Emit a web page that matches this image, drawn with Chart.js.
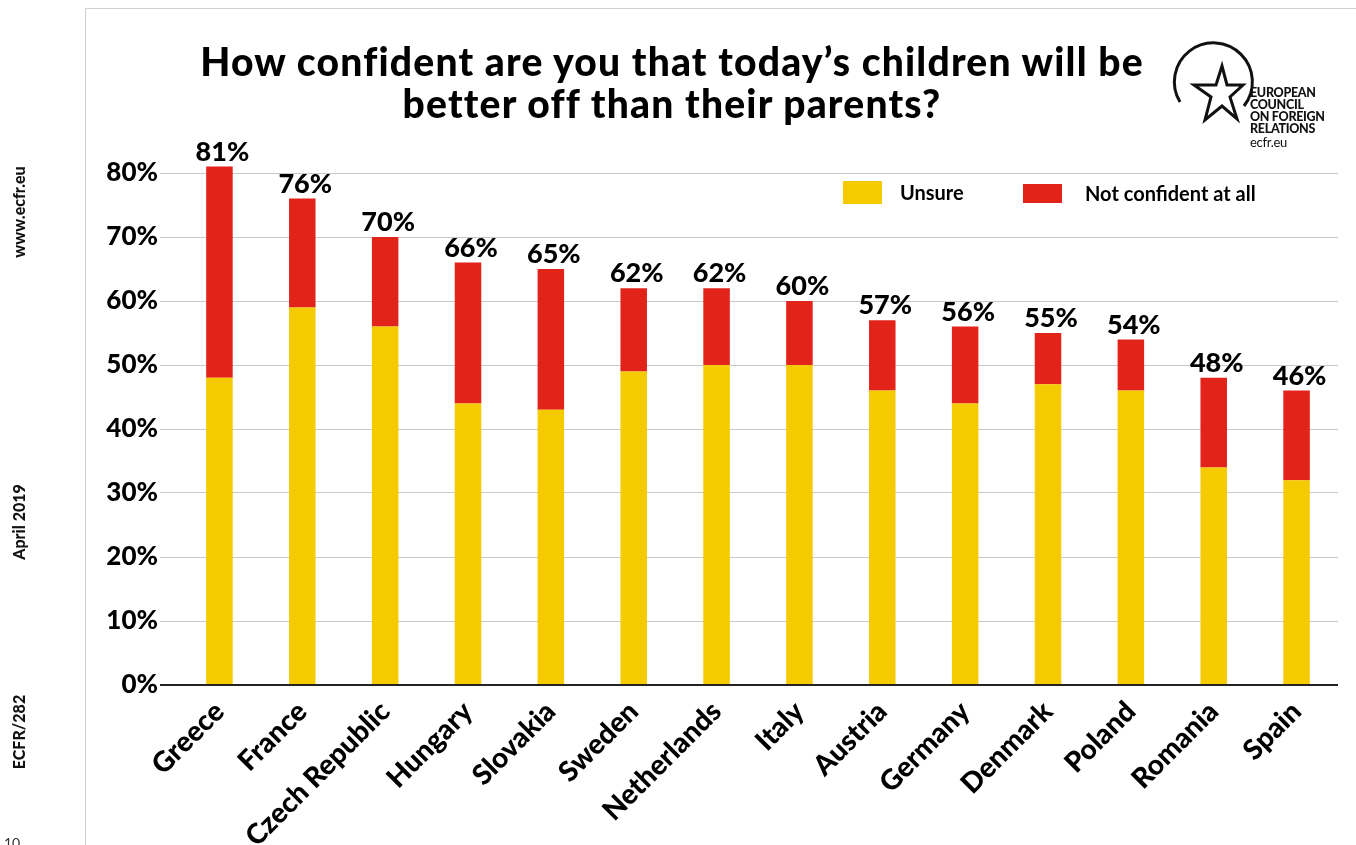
<!DOCTYPE html>
<html>
<head>
<meta charset="utf-8">
<script src="https://cdn.jsdelivr.net/npm/chart.js@4.4.1/dist/chart.umd.min.js"></script>
<style>
  html, body { margin:0; padding:0; background:#fff; }
  body { width:1356px; height:845px; position:relative; overflow:hidden; font-family:"Lato", "DejaVu Sans", sans-serif; }
  #wrap { position:absolute; left:0; top:0; width:1356px; height:845px; }
  .frameV { position:absolute; left:85px; top:8px; width:1px; height:837px; background:#cfcfcf; }
  .frameH { position:absolute; left:85px; top:8px; width:1271px; height:1px; background:#cfcfcf; }
  .side { position:absolute; font-weight:900; font-size:16px; color:#111; transform:translate(-50%,-50%) rotate(-90deg); white-space:nowrap; }
  #title { position:absolute; left:122px; width:1100px; top:40px; text-align:center; font-weight:900; font-size:39px; line-height:42px; letter-spacing:1.2px; color:#000; }
  #logo { position:absolute; left:1160px; top:30px; width:196px; height:130px; }
  .logoTxt { position:absolute; left:1250px; font-weight:900; font-size:12.5px; line-height:12px; color:#111; letter-spacing:-0.3px; }
</style>
</head>
<body>
<div id="wrap"><canvas id="c" width="1356" height="845"></canvas></div>
<div class="frameV"></div>
<div class="frameH"></div>
<div class="side" style="left:18px; top:212px;">www.ecfr.eu</div>
<div class="side" style="left:18px; top:522px;">April 2019</div>
<div class="side" style="left:18px; top:732px;">ECFR/282</div>
<div style="position:absolute; left:4px; top:834px; font-size:14px; color:#333;">10</div>
<div id="title">How confident are you that today’s children will be<br>better off than their parents?</div>
<svg id="logo" viewBox="0 0 196 130" width="196" height="130">
  <path d="M 20 72 A 39 39 0 1 1 84 76" fill="none" stroke="#111" stroke-width="3"/>
  <polygon points="62,36 67,55 83,55 70,67 77,89 62,76 45,90 51,67 34,55 56,55" fill="none" stroke="#111" stroke-width="3" stroke-linejoin="miter"/>
</svg>
<div class="logoTxt" style="top:87px;">EUROPEAN<br>COUNCIL<br>ON FOREIGN<br>RELATIONS</div>
<div class="logoTxt" style="top:136px; font-weight:normal; font-size:13px;">ecfr.eu</div>
<script>
const categories = ["Greece","France","Czech Republic","Hungary","Slovakia","Sweden","Netherlands","Italy","Austria","Germany","Denmark","Poland","Romania","Spain"];
const unsure       = [48, 59, 56, 44, 43, 49, 50, 50, 46, 44, 47, 46, 34, 32];
const notConfident = [33, 17, 14, 22, 22, 13, 12, 10, 11, 12,  8,  8, 14, 14];
const yTicks = [0,10,20,30,40,50,60,70,80];
const seriesNames = ["Unsure","Not confident at all"];
const colors = ["#F5CB00","#E2231A"];

const FONT = '"Lato", "DejaVu Sans", sans-serif';

const valueLabels = {
  id:'valueLabels',
  afterDatasetsDraw(chart){
    const ctx = chart.ctx;
    const meta = chart.getDatasetMeta(1);
    ctx.save();
    ctx.font = '900 27px ' + FONT;
    ctx.fillStyle = '#000';
    ctx.textAlign = 'center';
    ctx.textBaseline = 'bottom';
    meta.data.forEach((bar,i)=>{
      const total = unsure[i] + notConfident[i];
      ctx.fillText(total + '%', bar.x + 3, bar.y - 1);
    });
    ctx.restore();
  }
};

const customLegend = {
  id:'customLegend',
  afterDraw(chart){
    const ctx = chart.ctx;
    ctx.save();
    ctx.font = 'bold 20px ' + FONT;
    ctx.textBaseline = 'middle';
    ctx.fillStyle = colors[0];
    ctx.fillRect(843, 181, 39, 23);
    ctx.fillStyle = colors[1];
    ctx.fillRect(1023, 184, 39, 19);
    ctx.fillStyle = '#000';
    ctx.fillText(chart.data.datasets[0].label, 900, 194);
    ctx.fillText(chart.data.datasets[1].label, 1085, 195);
    ctx.restore();
  }
};

new Chart(document.getElementById('c'), {
  type:'bar',
  data:{
    labels: categories,
    datasets:[
      { label: seriesNames[0], data: unsure, backgroundColor: colors[0], clip:false },
      { label: seriesNames[1], data: notConfident, backgroundColor: colors[1], clip:false }
    ]
  },
  options:{
    responsive:false,
    animation:false,
    layout:{ padding:{ left:100, right:18, top:141, bottom:0 } },
    categoryPercentage:1,
    barPercentage:0.32,
    plugins:{ legend:{display:false}, tooltip:{enabled:false}, title:{display:false} },
    scales:{
      x:{
        stacked:true,
        grid:{ display:false },
        border:{ display:false },
        ticks:{ color:'#000', font:{ family:FONT, size:28, weight:'900' }, maxRotation:45, minRotation:45, padding:2 },
        afterFit(s){ s.height = 160; }
      },
      y:{
        stacked:true,
        min:0, max:85,
        afterBuildTicks(s){ s.ticks = yTicks.map(v=>({value:v})); },
        afterFit(s){ s.width = 78; },
        border:{ display:false },
        grid:{
          color:(c)=> c.tick && c.tick.value === 0 ? '#222' : '#c9c9c9',
          lineWidth:(c)=> c.tick && c.tick.value === 0 ? 2 : 1,
          tickLength:18,
          drawTicks:true
        },
        ticks:{ color:'#000', font:{ family:FONT, size:26, weight:'900' }, padding:2, callback:(v)=> v + '%' }
      }
    }
  },
  plugins:[valueLabels, customLegend]
});
</script>
</body>
</html>
